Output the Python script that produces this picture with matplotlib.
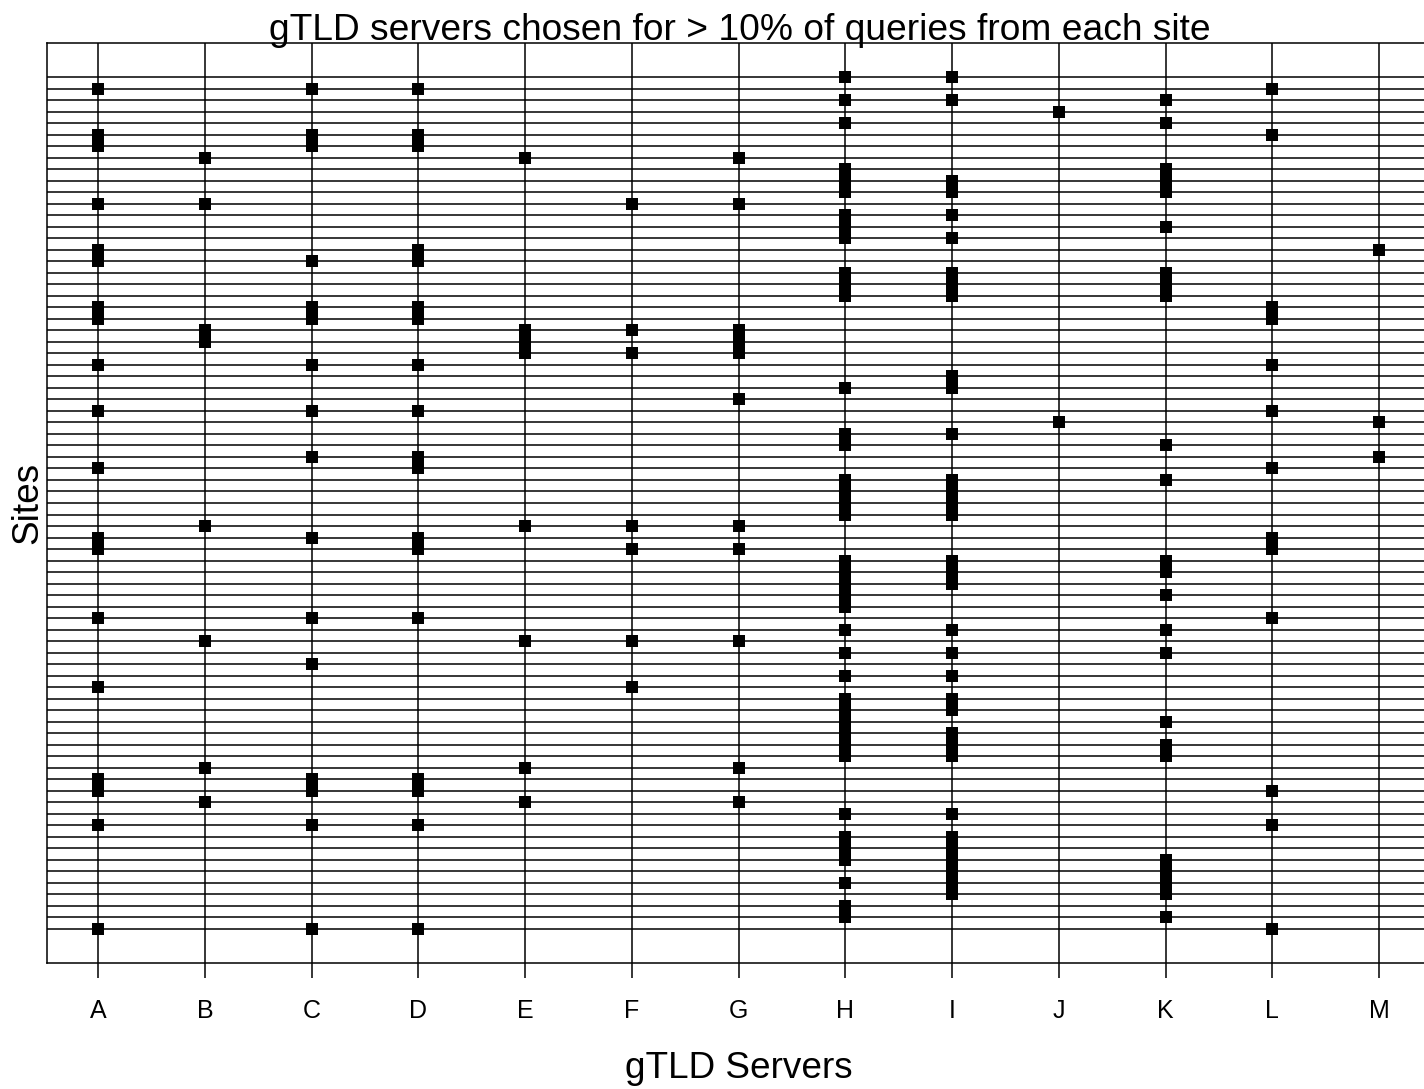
import numpy as np
import matplotlib
matplotlib.use("Agg")
import matplotlib.pyplot as plt

plt.rcParams['font.family'] = ['Liberation Sans', 'DejaVu Sans']

# gTLD servers and the sites (rows, 0 = top) that sent > 10% of queries to each
servers = list("ABCDEFGHIJKLM")
n_sites = 75

sites_A = [1, 5, 6, 11, 15, 16, 20, 21, 25, 29, 34, 40, 41, 47, 53, 61, 62, 65, 74]
sites_B = [7, 11, 22, 23, 39, 49, 60, 63]
sites_C = [1, 5, 6, 16, 20, 21, 25, 29, 33, 40, 47, 51, 61, 62, 65, 74]
sites_D = [1, 5, 6, 15, 16, 20, 21, 25, 29, 33, 34, 40, 41, 47, 61, 62, 65, 74]
sites_E = [7, 22, 23, 24, 39, 49, 60, 63]
sites_F = [11, 22, 24, 39, 41, 49, 53]
sites_G = [7, 11, 22, 23, 24, 28, 39, 41, 49, 60, 63]
sites_H = [0, 2, 4, 8, 9, 10, 12, 13, 14, 17, 18, 19, 27, 31, 32, 35, 36, 37, 38,
           42, 43, 44, 45, 46, 48, 50, 52, 54, 55, 56, 57, 58, 59, 64, 66, 67, 68,
           70, 72, 73]
sites_I = [0, 2, 9, 10, 12, 14, 17, 18, 19, 26, 27, 31, 35, 36, 37, 38, 42, 43, 44,
           48, 50, 52, 54, 55, 57, 58, 59, 64, 66, 67, 68, 69, 70, 71]
sites_J = [3, 30]
sites_K = [2, 4, 8, 9, 10, 13, 17, 18, 19, 32, 35, 42, 43, 45, 48, 50, 56, 58, 59,
           68, 69, 70, 71, 73]
sites_L = [1, 5, 20, 21, 25, 29, 34, 40, 41, 47, 62, 65, 74]
sites_M = [15, 30, 33]

chosen = [sites_A, sites_B, sites_C, sites_D, sites_E, sites_F, sites_G,
          sites_H, sites_I, sites_J, sites_K, sites_L, sites_M]

W, H = 1424, 1089
fig = plt.figure(figsize=(W / 100, H / 100), dpi=100)
# right edge of the box falls just outside the picture, as in the original
ax = fig.add_axes([47 / W, 126 / H, 1383.2 / W, 920 / H])

xpos = np.arange(1, len(servers) + 1)
lw = 1.1

for s in range(n_sites):
    ax.axhline(s, color='black', lw=lw, zorder=1)
for x in xpos:
    ax.axvline(x, color='black', lw=lw, zorder=1)

for x, rows in zip(xpos, chosen):
    ax.plot(np.full(len(rows), x), rows, ls='none', marker='s', ms=8.8,
            mfc='black', mec='black', mew=0, zorder=3)

pad_x = 0.04 * (len(servers) - 1)
pad_y = 0.04 * (n_sites - 1)
ax.set_xlim(1 - pad_x, len(servers) + pad_x)
ax.set_ylim(n_sites - 1 + pad_y, -pad_y)

ax.set_xticks(xpos)
ax.set_xticklabels(servers, fontsize=18)
ax.set_yticks([])
ax.tick_params(axis='x', direction='out', length=10.8, width=lw, pad=15)
for sp in ax.spines.values():
    sp.set_linewidth(lw)

fig.text(740 / W, 1 - 40 / H, "gTLD servers chosen for > 10% of queries from each site",
         ha='center', va='baseline', fontsize=26.7)
fig.text(738.5 / W, 1 - 1078 / H, "gTLD Servers", ha='center', va='baseline', fontsize=26.6)
fig.text(28 / W, 1 - 503 / H, "Sites", ha='center', va='center', rotation=90, fontsize=26.6)

fig.savefig("out.png", dpi=100)
